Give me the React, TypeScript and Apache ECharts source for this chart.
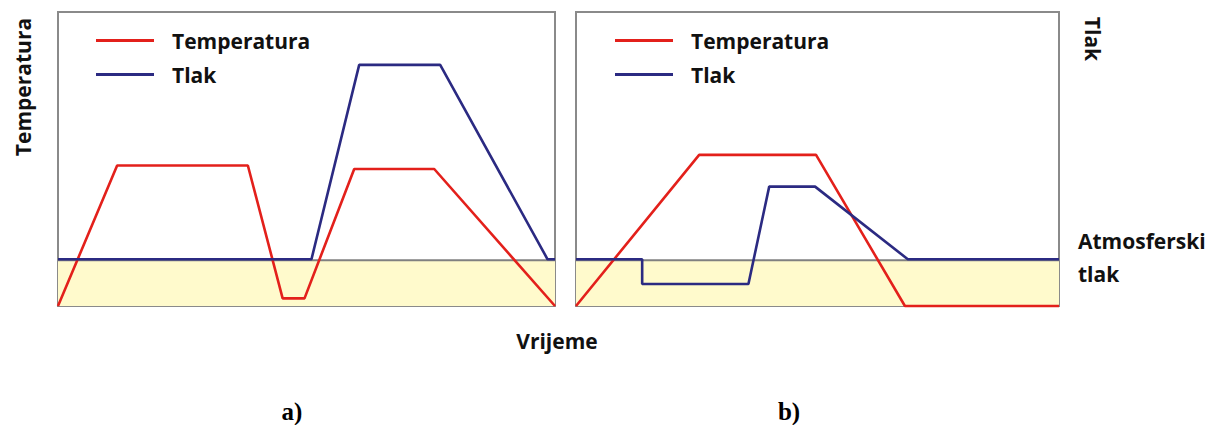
import React, { useEffect, useRef } from "react";
import * as echarts from "echarts";

// Panel a) — time (0..100) vs. relative level (0..100)
const timeATemp = [0, 11.9, 38.2, 45.2, 49.6, 59.6, 75.7, 100];
const tempA = [0, 47.8, 47.8, 2.6, 2.6, 46.6, 46.6, 0];
const timeAPress = [0, 51.0, 60.6, 76.9, 98.5, 100];
const pressA = [15.9, 15.9, 82.0, 82.0, 15.9, 15.9];

// Panel b)
const timeBTemp = [0, 25.5, 49.7, 68.1, 100];
const tempB = [0, 51.4, 51.4, 0, 0];
const timeBPress = [0, 13.7, 13.7, 35.7, 40.0, 49.5, 68.7, 100];
const pressB = [15.9, 15.9, 7.5, 7.5, 40.6, 40.6, 15.9, 15.9];

// Atmospheric pressure level
const atmTime = [0, 100];
const atmLevel = 15.6;

const seriesNames = ["Temperatura", "Tlak"];
const RED = "#E3201B";
const BLUE = "#2B2A82";
const FONT = "'Open Sans', sans-serif";
const SERIF = "'Liberation Serif', 'Times New Roman', serif";

const zip = (xs: number[], ys: number[]) => xs.map((x, i) => [x, ys[i]]);

export default function App() {
  const ref = useRef<HTMLDivElement>(null);
  useEffect(() => {
    if (!ref.current) return;
    const chart = echarts.init(ref.current, null, { renderer: "svg" });
    const gridBase = {
      top: 12,
      height: 294,
      show: true,
      borderColor: "#8a8a8a",
      borderWidth: 2,
      backgroundColor: "transparent",
    };
    const axisX = (i: number) => ({ type: "value", gridIndex: i, min: 0, max: 100, show: false });
    const axisY = (i: number) => ({ type: "value", gridIndex: i, min: 0, max: 100, show: false });
    const legendBase = {
      orient: "vertical",
      top: 25,
      itemWidth: 58,
      itemHeight: 3,
      itemGap: 13,
      icon: "rect",
      selectedMode: false,
      data: seriesNames,
      textStyle: {
        fontFamily: FONT,
        fontWeight: "bold",
        fontSize: 21,
        color: "#111",
        lineHeight: 20,
        padding: [0, 0, 0, 13],
      },
    };
    const atmSeries = (i: number) => ({
      name: "Atmosferski tlak",
      type: "line",
      xAxisIndex: i,
      yAxisIndex: i,
      data: zip(atmTime, [atmLevel, atmLevel]),
      showSymbol: false,
      clip: false,
      silent: true,
      z: 1,
      lineStyle: { color: "#808080", width: 2 },
      itemStyle: { color: "#808080" },
      markArea: {
        silent: true,
        itemStyle: { color: "#FFFACC", opacity: 1 },
        data: [[{ yAxis: 0 }, { yAxis: atmLevel }]],
      },
    });
    const lineSeries = (name: string, color: string, i: number, data: number[][]) => ({
      name,
      type: "line",
      xAxisIndex: i,
      yAxisIndex: i,
      data,
      color,
      showSymbol: false,
      clip: false,
      z: 3,
      lineStyle: { color, width: 2.6 },
      itemStyle: { color },
    });
    const label = (text: string, x: number, y: number, extra: any = {}) => ({
      type: "text",
      x,
      y,
      ...extra,
      style: {
        text,
        fontFamily: FONT,
        fontWeight: "bold",
        fontSize: 21,
        fill: "#111",
        align: "center",
        verticalAlign: "middle",
        ...(extra.style || {}),
      },
    });
    chart.setOption({
      animation: false,
      grid: [
        { ...gridBase, left: 58, width: 497 },
        { ...gridBase, left: 576, width: 483 },
      ],
      xAxis: [axisX(0), axisX(1)],
      yAxis: [axisY(0), axisY(1)],
      legend: [
        { ...legendBase, left: 91 },
        { ...legendBase, left: 610 },
      ],
      series: [
        atmSeries(0),
        atmSeries(1),
        lineSeries("Temperatura", RED, 0, zip(timeATemp, tempA)),
        lineSeries("Tlak", BLUE, 0, zip(timeAPress, pressA)),
        lineSeries("Temperatura", RED, 1, zip(timeBTemp, tempB)),
        lineSeries("Tlak", BLUE, 1, zip(timeBPress, pressB)),
      ],
      graphic: [
        label("Temperatura", 23, 87, { rotation: Math.PI / 2 }),
        label("Tlak", 1093, 39, { rotation: -Math.PI / 2 }),
        label("Atmosferski", 1078, 241, { style: { align: "left" } }),
        label("tlak", 1078, 274, { style: { align: "left" } }),
        label("Vrijeme", 557, 341),
        label("a)", 292, 411, { style: { fontFamily: SERIF, fontSize: 25, fill: "#000" } }),
        label("b)", 789, 411, { style: { fontFamily: SERIF, fontSize: 25, fill: "#000" } }),
      ],
    });
    return () => chart.dispose();
  }, []);
  return (
    <div
      ref={ref}
      style={{ position: "fixed", left: 0, top: 0, width: 1210, height: 425, background: "#fff" }}
    />
  );
}
